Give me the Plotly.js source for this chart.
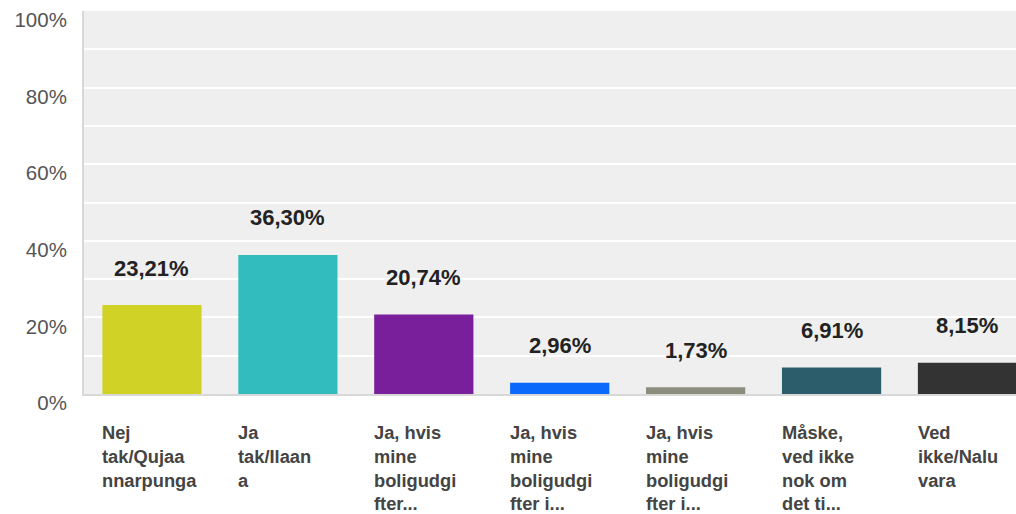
<!DOCTYPE html>
<html><head><meta charset="utf-8">
<script src="https://cdn.plot.ly/plotly-3.0.1.min.js"></script>
<style>html,body{margin:0;padding:0;background:#fff;overflow:hidden}</style>
</head><body>
<div id="chart" style="width:1016px;height:514px"></div>
<script>
const categories = [
  "Nej<br>tak/Qujaa<br>nnarpunga",
  "Ja<br>tak/Ilaan<br>a",
  "Ja, hvis<br>mine<br>boligudgi<br>fter...",
  "Ja, hvis<br>mine<br>boligudgi<br>fter i...",
  "Ja, hvis<br>mine<br>boligudgi<br>fter i...",
  "Måske,<br>ved ikke<br>nok om<br>det ti...",
  "Ved<br>ikke/Nalu<br>vara"
];
const values = [23.21, 36.30, 20.74, 2.96, 1.73, 6.91, 8.15];
const valueLabels = ["23,21%", "36,30%", "20,74%", "2,96%", "1,73%", "6,91%", "8,15%"];
const colors = ["#d0d326", "#33bcbe", "#7a1f9c", "#0a68fa", "#8c8d7c", "#2c5d6a", "#333333"];
const yTickVals = [0,10,20,30,40,50,60,70,80,90,100];
const yTickText = ["0%","","20%","","40%","","60%","","80%","","100%"];

const xIdx = categories.map((c,i)=>i);
const barHalf = 0.364;

const annotations = [];
values.forEach((v,i)=>{
  annotations.push({x:i, y:v, xref:'x', yref:'y', text:'<b>'+valueLabels[i]+'</b>', showarrow:false,
    yshift:37, font:{family:'Liberation Sans, Arial, sans-serif', size:22, color:'#222'}});
  annotations.push({x:i-barHalf, y:0, xref:'x', yref:'paper', text:'<b>'+categories[i]+'</b>', showarrow:false,
    xanchor:'left', yanchor:'top', align:'left', yshift:-26, xshift:-2,
    font:{family:'Liberation Sans, Arial, sans-serif', size:18.3, color:'#444'}});
});

Plotly.newPlot('chart', [{
  type:'bar', x:xIdx, y:values, marker:{color:colors, line:{width:0}}, hoverinfo:'none'
}], {
  width:1016, height:514,
  margin:{l:84, r:0, t:11, b:120, pad:0},
  paper_bgcolor:'#ffffff', plot_bgcolor:'#efefef',
  bargap:0.27, showlegend:false,
  xaxis:{range:[-0.5, 6.357], showticklabels:false, showgrid:false, zeroline:false,
    showline:true, linecolor:'#d8d8d8', linewidth:2, ticks:''},
  yaxis:{range:[0,100], tickvals:yTickVals, ticktext:yTickText, showgrid:true, gridcolor:'#ffffff', gridwidth:2,
    zeroline:false, showline:true, linecolor:'#d8d8d8', linewidth:2, ticks:'', ticklabelshift:9,
    ticklabelstandoff:11,
    tickfont:{family:'Liberation Sans, Arial, sans-serif', size:20.5, color:'#555'}},
  annotations:annotations
}, {displayModeBar:false, staticPlot:true});
</script>
</body></html>
